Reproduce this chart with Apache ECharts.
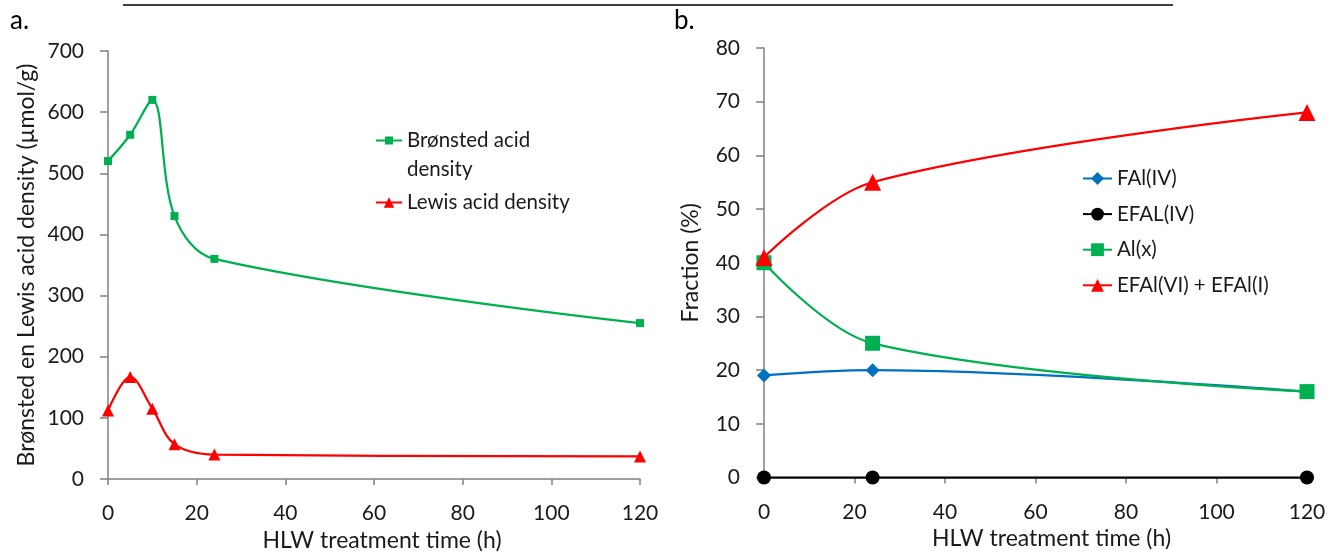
<!DOCTYPE html>
<html>
<head>
<meta charset="utf-8">
<script src="https://cdn.jsdelivr.net/npm/echarts@6/dist/echarts.min.js"></script>
<style>
  html, body { margin: 0; padding: 0; background: #fff; }
  #chart { width: 1330px; height: 552px; }
</style>
</head>
<body>
<div id="chart"></div>
<script>
// panel a: acid density vs treatment time
var timeA = [0, 5, 10, 15, 24, 120];
var bronsted = [520, 563, 620, 430, 360, 255];
var lewis = [112, 167, 115, 57, 40, 37];

// panel b: Al fractions
var timeB = [0, 24, 120];
var fal4 = [19, 20, 16];
var efal4 = [0, 0, 0];
var alx = [40, 25, 16];
var efal6 = [41, 55, 68];

function pairs(xs, ys) {
    var out = [];
    for (var i = 0; i < xs.length; i++) out.push([xs[i], ys[i]]);
    return out;
}

var FONT = 'Lato';
var TXT = '#1a1a1a';
var AXC = '#808080';

function xAxisOpt(idx, shift) {
    return {
        gridIndex: idx, type: 'value', min: 0, max: 120, interval: 20,
        name: 'HLW treatment time (h)', nameLocation: 'middle', nameGap: 50,
        nameTextStyle: { fontFamily: FONT, fontSize: 23, color: TXT, padding: [0, 0, 0, shift] },
        axisLine: { lineStyle: { color: AXC, width: 1.5 } },
        axisTick: { show: true, length: 6, lineStyle: { color: AXC, width: 1.5 } },
        axisLabel: { fontFamily: FONT, fontSize: 21, color: TXT, margin: 24 },
        splitLine: { show: false }
    };
}

function yAxisOpt(idx, max, interval, name, gap) {
    return {
        gridIndex: idx, type: 'value', min: 0, max: max, interval: interval,
        name: name, nameLocation: 'middle', nameGap: gap,
        nameTextStyle: { fontFamily: FONT, fontSize: 23, color: TXT },
        axisLine: { show: true, lineStyle: { color: AXC, width: 1.5 } },
        axisTick: { show: true, length: 8, lineStyle: { color: AXC, width: 1.5 } },
        axisLabel: { fontFamily: FONT, fontSize: 21, color: TXT, margin: 24 },
        splitLine: { show: false }
    };
}

function lineSeries(name, xi, xs, ys, color, symbol, size, z) {
    return {
        name: name, type: 'line', xAxisIndex: xi, yAxisIndex: xi,
        data: pairs(xs, ys), smooth: 0.35,
        symbol: symbol, symbolSize: size, z: z || 2,
        lineStyle: { color: color, width: 2.25 },
        itemStyle: { color: color },
        emphasis: { disabled: true }
    };
}

var chart = echarts.init(document.getElementById('chart'));
chart.setOption({
    animation: false,
    grid: [
        { left: 108, top: 51, width: 532, height: 428, outerBoundsMode: 'none', containLabel: false },
        { left: 764, top: 48, width: 543, height: 429.5, outerBoundsMode: 'none', containLabel: false }
    ],
    xAxis: [xAxisOpt(0, 16), xAxisOpt(1, 32)],
    yAxis: [
        yAxisOpt(0, 700, 100, 'Brønsted en Lewis acid density (µmol/g)', 70),
        yAxisOpt(1, 80, 10, 'Fraction (%)', 62)
    ],
    legend: [
        {
            data: ['Brønsted acid density'], left: 370, top: 92,
            itemWidth: 26, itemHeight: 10, selectedMode: false,
            formatter: function () { return ' \nBrønsted acid\ndensity'; },
            textStyle: { fontFamily: FONT, fontSize: 20.5, color: TXT, lineHeight: 29 }
        },
        {
            data: ['Lewis acid density'], left: 370, top: 187,
            itemWidth: 26, itemHeight: 13, selectedMode: false,
            textStyle: { fontFamily: FONT, fontSize: 20.5, color: TXT }
        },
        {
            data: ['FAl(IV)', 'EFAL(IV)', 'Al(x)', 'EFAl(VI) + EFAl(I)'],
            orient: 'vertical', left: 1077, top: 163, itemGap: 14.6,
            itemWidth: 29, itemHeight: 16, selectedMode: false,
            textStyle: { fontFamily: FONT, fontSize: 20.5, color: TXT }
        }
    ],
    graphic: [
        { type: 'line', shape: { x1: 123, y1: 5, x2: 1173, y2: 5 }, style: { stroke: '#000', lineWidth: 1.5 } },
        { type: 'text', left: 10, top: 8, style: { text: 'a.', fontFamily: FONT, fontSize: 26, fill: '#000' } },
        { type: 'text', left: 674, top: 8, style: { text: 'b.', fontFamily: FONT, fontSize: 26, fill: '#000' } }
    ],
    series: [
        lineSeries('Brønsted acid density', 0, timeA, bronsted, '#00B050', 'rect', 8),
        lineSeries('Lewis acid density', 0, timeA, lewis, '#FF0000', 'triangle', 12),
        lineSeries('FAl(IV)', 1, timeB, fal4, '#0070C0', 'diamond', 14),
        lineSeries('EFAL(IV)', 1, timeB, efal4, '#000000', 'circle', 14),
        lineSeries('Al(x)', 1, timeB, alx, '#00B050', 'rect', 15),
        lineSeries('EFAl(VI) + EFAl(I)', 1, timeB, efal6, '#FF0000', 'triangle', 17, 3)
    ]
});
</script>
</body>
</html>
